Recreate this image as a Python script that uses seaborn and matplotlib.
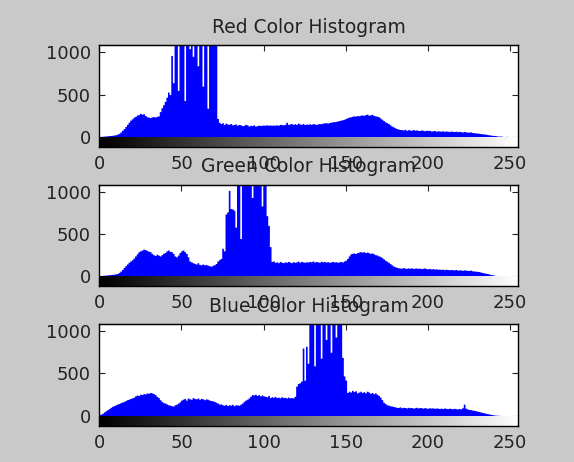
import numpy as np
import pandas as pd
import matplotlib
matplotlib.use("Agg")
import matplotlib.pyplot as plt
import seaborn as sns

# Intensity levels and pixel counts per level
levels = list(range(256))

red_counts = [
    5, 8, 10, 12, 14, 16, 18, 20, 22, 25, 28, 35, 45, 60, 80, 100,
    125, 150, 175, 200, 215, 235, 245, 260, 265, 280, 270, 275, 255, 240, 235, 230,
    238, 242, 236, 245, 250, 300, 345, 380, 420, 470, 530, 500, 960, 640, 1500, 1500,
    550, 1500, 1500, 1500, 430, 1500, 1500, 1040, 1500, 950, 1500, 1500, 840, 1500, 1500, 600,
    1500, 1500, 340, 1500, 1500, 1500, 1500, 1200, 220, 175, 160, 170, 150, 165, 155, 150,
    160, 145, 150, 155, 140, 150, 145, 135, 140, 150, 145, 130, 140, 135, 145, 130,
    135, 140, 138, 140, 142, 140, 145, 140, 143, 140, 142, 140, 145, 140, 150, 148,
    145, 150, 175, 150, 155, 160, 150, 158, 150, 165, 155, 150, 160, 148, 155, 150,
    158, 150, 160, 155, 150, 155, 160, 158, 165, 168, 170, 165, 172, 175, 180, 182,
    185, 190, 195, 200, 205, 210, 220, 228, 235, 240, 245, 250, 248, 255, 250, 258,
    262, 255, 265, 270, 258, 262, 268, 255, 250, 245, 240, 225, 210, 195, 180, 170,
    160, 145, 130, 120, 110, 100, 95, 90, 88, 85, 92, 80, 88, 85, 80, 90,
    82, 85, 80, 78, 85, 80, 75, 82, 78, 80, 72, 75, 78, 70, 75, 72,
    70, 75, 68, 72, 70, 65, 72, 68, 66, 70, 64, 68, 65, 60, 66, 62,
    60, 58, 62, 55, 52, 50, 48, 45, 42, 40, 38, 35, 32, 28, 25, 22,
    20, 18, 15, 12, 14, 10, 8, 6, 10, 5, 3, 2, 1, 0, 0, 0,
]

green_counts = [
    5, 8, 10, 12, 14, 16, 18, 20, 22, 25, 28, 32, 45, 60, 80, 105,
    125, 145, 165, 180, 195, 215, 240, 265, 290, 300, 310, 320, 315, 305, 295, 290,
    270, 255, 245, 260, 250, 240, 255, 270, 280, 300, 310, 295, 290, 270, 240, 230,
    250, 280, 300, 310, 290, 270, 230, 180, 170, 160, 150, 145, 160, 140, 135, 145,
    135, 140, 130, 125, 116, 130, 135, 150, 180, 195, 210, 330, 300, 735, 760, 1015,
    800, 795, 780, 580, 1500, 1500, 445, 1500, 1500, 1500, 1500, 1500, 1500, 930, 1500, 1500,
    1500, 1500, 1500, 830, 1500, 1500, 715, 600, 350, 175, 180, 165, 170, 160, 175, 165,
    160, 170, 165, 175, 168, 160, 172, 165, 170, 178, 165, 175, 170, 165, 172, 168,
    175, 170, 180, 168, 175, 170, 165, 178, 170, 175, 168, 172, 165, 170, 175, 168,
    172, 165, 170, 175, 168, 180, 190, 210, 240, 265, 270, 275, 268, 280, 285, 290,
    285, 290, 280, 285, 278, 270, 275, 265, 255, 250, 240, 235, 220, 205, 190, 178,
    165, 150, 135, 120, 112, 105, 100, 98, 95, 102, 96, 94, 98, 95, 100, 92,
    95, 98, 92, 96, 90, 94, 98, 90, 88, 92, 86, 90, 84, 88, 82, 85,
    80, 84, 78, 82, 80, 76, 80, 78, 75, 80, 72, 76, 74, 70, 75, 72,
    70, 68, 72, 65, 62, 60, 58, 55, 50, 45, 40, 36, 32, 28, 22, 18,
    14, 10, 6, 4, 3, 2, 1, 0, 0, 0, 0, 0, 0, 0, 0, 0,
]

blue_counts = [
    15, 20, 30, 45, 60, 72, 85, 100, 112, 120, 130, 138, 145, 155, 162, 170,
    180, 190, 196, 205, 212, 220, 235, 245, 240, 255, 250, 262, 258, 270, 265, 275,
    270, 262, 250, 230, 215, 190, 170, 155, 150, 140, 130, 125, 118, 115, 130, 137,
    150, 165, 185, 196, 205, 185, 210, 200, 195, 215, 205, 200, 210, 195, 205, 200,
    190, 200, 195, 185, 180, 176, 170, 160, 150, 137, 140, 130, 125, 135, 120, 130,
    125, 135, 118, 130, 128, 125, 137, 150, 170, 185, 196, 210, 230, 250, 245, 255,
    240, 250, 235, 245, 235, 230, 225, 240, 215, 225, 218, 230, 215, 220, 212, 225,
    215, 218, 210, 220, 212, 215, 210, 230, 350, 380, 390, 410, 800, 420, 820, 620,
    1500, 1500, 1500, 590, 1500, 1500, 1500, 680, 1500, 1500, 900, 1500, 1500, 750, 1500, 1500,
    930, 1500, 1500, 1500, 690, 470, 420, 275, 290, 280, 300, 285, 295, 270, 280, 290,
    275, 285, 270, 290, 280, 265, 275, 260, 270, 255, 240, 220, 190, 160, 145, 130,
    125, 118, 115, 110, 105, 100, 98, 105, 95, 100, 98, 92, 100, 95, 98, 90,
    95, 100, 92, 98, 95, 90, 96, 92, 88, 95, 90, 94, 88, 92, 90, 86,
    90, 85, 92, 88, 84, 90, 86, 82, 88, 84, 80, 86, 82, 95, 137, 90,
    80, 75, 72, 68, 64, 60, 55, 50, 45, 40, 35, 30, 26, 22, 18, 14,
    10, 8, 6, 5, 4, 3, 2, 1, 0, 0, 0, 0, 0, 0, 0, 0,
]

titles = ["Red Color Histogram", "Green Color Histogram", "Blue Color Histogram"]
x_ticks = [0, 50, 100, 150, 200, 250]
y_ticks = [0, 500, 1000]

sns.set_style("white")
plt.rcParams["font.family"] = ["DejaVu Sans"]
plt.rcParams["font.size"] = 13

fig = plt.figure(figsize=(5.74, 4.62), dpi=100, facecolor="#c9c9c9")

# axes boxes in figure fractions (left, bottom, width, height)
boxes = [
    (0.173, 0.682, 0.730, 0.220),
    (0.173, 0.381, 0.730, 0.219),
    (0.173, 0.079, 0.730, 0.219),
]

ymin, ymax = -115, 1080
gradient = np.linspace(0, 1, 256)[None, :]

for counts, title, box in zip([red_counts, green_counts, blue_counts], titles, boxes):
    ax = fig.add_axes(box)
    ax.set_facecolor("white")
    df = pd.DataFrame({"level": levels, "count": counts})
    sns.histplot(data=df, x="level", weights="count", discrete=True,
                 element="step", fill=True, color="#0000ff", alpha=1,
                 linewidth=0, ax=ax)
    # grey level strip under the histogram
    ax.imshow(gradient, cmap="gray", aspect="auto", extent=(0, 255, ymin, 0),
              zorder=2)
    ax.set_xlim(0, 255)
    ax.set_ylim(ymin, ymax)
    ax.set_xticks(x_ticks)
    ax.set_yticks(y_ticks)
    ax.set_xlabel("")
    ax.set_ylabel("")
    ax.set_title(title, fontsize=13.5, color="#222222", pad=9)
    ax.tick_params(axis="x", direction="in", length=7, width=0.8, pad=6,
                   colors="#222222", bottom=True, top=False)
    ax.tick_params(axis="y", direction="in", length=4, width=0.8, pad=6,
                   colors="#222222", left=True, right=True)
    top = ax.secondary_xaxis("top")
    top.set_xticks(x_ticks)
    top.tick_params(direction="in", length=4, width=0.8, labeltop=False)
    top.spines["top"].set_color("black")
    for side in ["left", "right", "top", "bottom"]:
        ax.spines[side].set_visible(True)
        ax.spines[side].set_color("black")
        ax.spines[side].set_linewidth(1)
        ax.spines[side].set_zorder(4)
    ax.set_zorder(1)

fig.savefig("out.png", dpi=100, facecolor=fig.get_facecolor())
